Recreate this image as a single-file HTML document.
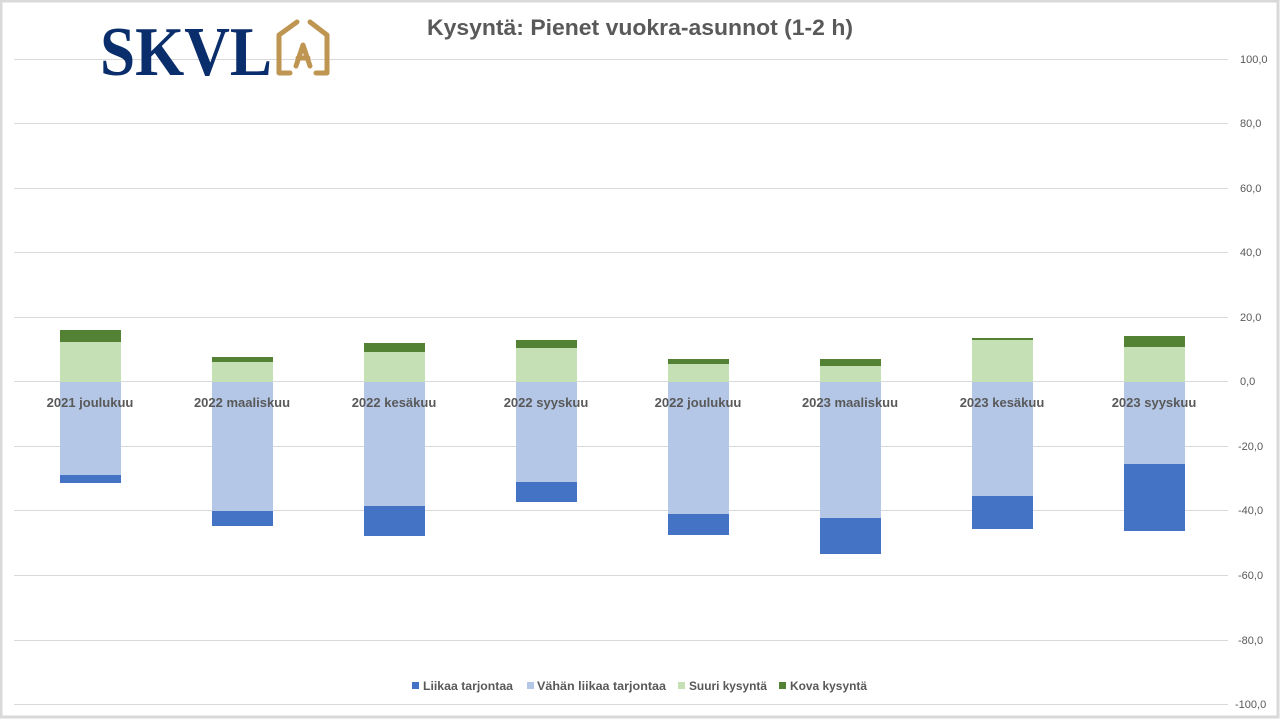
<!DOCTYPE html>
<html><head><meta charset="utf-8"><style>html,body{margin:0;padding:0;background:#fff}svg{display:block}</style></head>
<body>
<svg width="1280" height="720" viewBox="0 0 1280 720" xmlns="http://www.w3.org/2000/svg" font-family="Liberation Sans, sans-serif">
<rect x="0" y="0" width="1280" height="720" fill="#fff"/>
<rect x="1" y="1" width="1277" height="716" fill="none" stroke="#d9d9d9" stroke-width="3"/>
<g stroke="#d9d9d9" stroke-width="1">
<line x1="14" x2="1228" y1="59.5" y2="59.5"/><line x1="14" x2="1228" y1="123.5" y2="123.5"/>
<line x1="14" x2="1228" y1="188.5" y2="188.5"/><line x1="14" x2="1228" y1="252.5" y2="252.5"/>
<line x1="14" x2="1228" y1="317.5" y2="317.5"/><line x1="14" x2="1228" y1="381.5" y2="381.5"/>
<line x1="14" x2="1228" y1="446.5" y2="446.5"/><line x1="14" x2="1228" y1="510.5" y2="510.5"/>
<line x1="14" x2="1228" y1="575.5" y2="575.5"/><line x1="14" x2="1228" y1="640.5" y2="640.5"/>
<line x1="14" x2="1228" y1="704.5" y2="704.5"/>
</g>
<g font-size="11" fill="#595959">
<text x="1240" y="63">100,0</text><text x="1240" y="127">80,0</text><text x="1240" y="192">60,0</text>
<text x="1240" y="256">40,0</text><text x="1240" y="321">20,0</text><text x="1240" y="385">0,0</text>
<text x="1238" y="450">-20,0</text><text x="1238" y="514">-40,0</text><text x="1238" y="579">-60,0</text>
<text x="1238" y="644">-80,0</text><text x="1235" y="708">-100,0</text>
</g>
<g>
<rect x="60" y="330" width="61" height="12" fill="#548235"/><rect x="60" y="342" width="61" height="40" fill="#c5e0b4"/><rect x="60" y="382" width="61" height="93" fill="#b4c7e7"/><rect x="60" y="475" width="61" height="8" fill="#4472c4"/>
<rect x="212" y="357" width="61" height="5" fill="#548235"/><rect x="212" y="362" width="61" height="20" fill="#c5e0b4"/><rect x="212" y="382" width="61" height="129" fill="#b4c7e7"/><rect x="212" y="511" width="61" height="15" fill="#4472c4"/>
<rect x="364" y="343" width="61" height="9" fill="#548235"/><rect x="364" y="352" width="61" height="30" fill="#c5e0b4"/><rect x="364" y="382" width="61" height="124" fill="#b4c7e7"/><rect x="364" y="506" width="61" height="30" fill="#4472c4"/>
<rect x="516" y="340" width="61" height="8" fill="#548235"/><rect x="516" y="348" width="61" height="34" fill="#c5e0b4"/><rect x="516" y="382" width="61" height="100" fill="#b4c7e7"/><rect x="516" y="482" width="61" height="20" fill="#4472c4"/>
<rect x="668" y="359" width="61" height="5" fill="#548235"/><rect x="668" y="364" width="61" height="18" fill="#c5e0b4"/><rect x="668" y="382" width="61" height="132" fill="#b4c7e7"/><rect x="668" y="514" width="61" height="21" fill="#4472c4"/>
<rect x="820" y="359" width="61" height="7" fill="#548235"/><rect x="820" y="366" width="61" height="16" fill="#c5e0b4"/><rect x="820" y="382" width="61" height="136" fill="#b4c7e7"/><rect x="820" y="518" width="61" height="36" fill="#4472c4"/>
<rect x="972" y="338" width="61" height="2" fill="#548235"/><rect x="972" y="340" width="61" height="42" fill="#c5e0b4"/><rect x="972" y="382" width="61" height="114" fill="#b4c7e7"/><rect x="972" y="496" width="61" height="33" fill="#4472c4"/>
<rect x="1124" y="336" width="61" height="11" fill="#548235"/><rect x="1124" y="347" width="61" height="35" fill="#c5e0b4"/><rect x="1124" y="382" width="61" height="82" fill="#b4c7e7"/><rect x="1124" y="464" width="61" height="67" fill="#4472c4"/>
</g>
<g font-size="13" font-weight="bold" fill="#595959" text-anchor="middle">
<text x="90" y="407">2021 joulukuu</text><text x="242" y="407">2022 maaliskuu</text>
<text x="394" y="407">2022 kesäkuu</text><text x="546" y="407">2022 syyskuu</text>
<text x="698" y="407">2022 joulukuu</text><text x="850" y="407">2023 maaliskuu</text>
<text x="1002" y="407">2023 kesäkuu</text><text x="1154" y="407">2023 syyskuu</text>
</g>
<text x="427" y="35" font-size="22" font-weight="bold" fill="#595959" textLength="426" lengthAdjust="spacingAndGlyphs">Kysyntä: Pienet vuokra-asunnot (1-2 h)</text>
<g font-size="12" font-weight="bold" fill="#595959">
<rect x="412" y="682" width="7" height="7" fill="#4472c4"/><text x="423" y="690" textLength="90" lengthAdjust="spacingAndGlyphs">Liikaa tarjontaa</text>
<rect x="527" y="682" width="7" height="7" fill="#b4c7e7"/><text x="537" y="690" textLength="129" lengthAdjust="spacingAndGlyphs">Vähän liikaa tarjontaa</text>
<rect x="678" y="682" width="7" height="7" fill="#c5e0b4"/><text x="689" y="690" textLength="78" lengthAdjust="spacingAndGlyphs">Suuri kysyntä</text>
<rect x="779" y="682" width="7" height="7" fill="#548235"/><text x="790" y="690" textLength="77" lengthAdjust="spacingAndGlyphs">Kova kysyntä</text>
</g>
<text x="100" y="75" font-family="Liberation Serif, serif" font-weight="bold" font-size="70" fill="#0a2d6b" textLength="172" lengthAdjust="spacingAndGlyphs">SKVL</text>
<g fill="none" stroke="#bf9552" stroke-width="5" stroke-linecap="round" stroke-linejoin="round">
<path d="M290 73 H279 V35 L297 22"/>
<path d="M310 22 L327 35 V73 H316"/>
</g>
<path d="M296 66 L303 45 L310 66 M298 58 H308" fill="none" stroke="#bf9552" stroke-width="5" stroke-linecap="round" stroke-linejoin="round"/>
</svg>
</body></html>
